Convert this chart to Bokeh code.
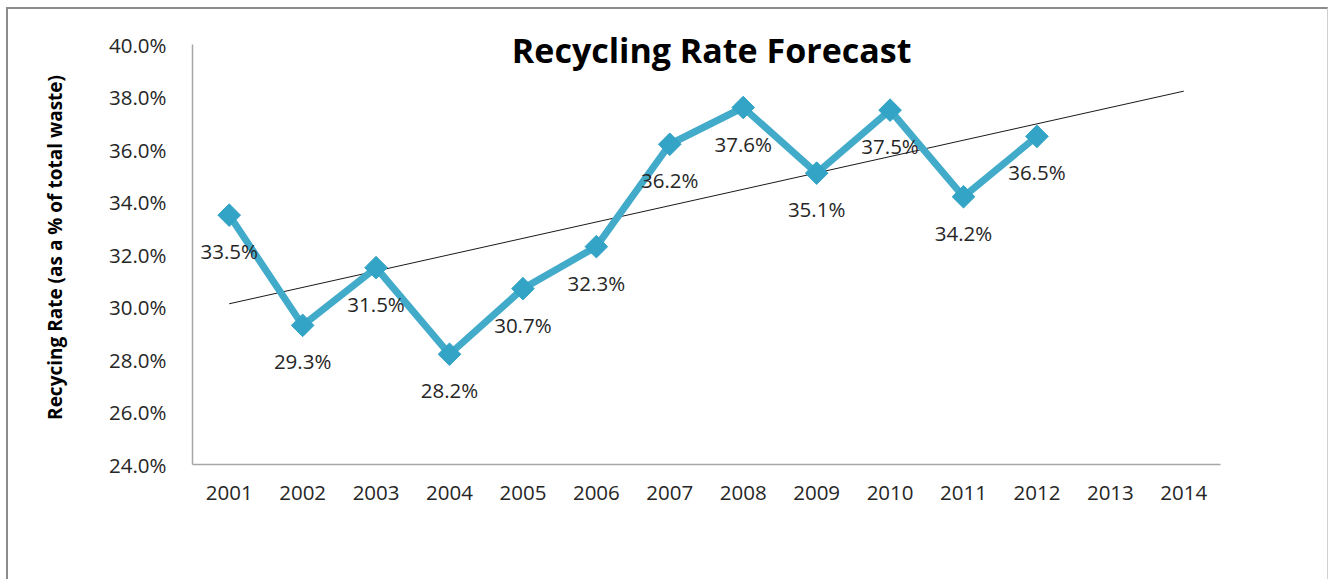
import numpy as np
from bokeh.plotting import figure
from bokeh.models import Range1d, FactorRange, NumeralTickFormatter, Label, FixedTicker
from bokeh.core.properties import value
from bokeh.embed import file_html
from bokeh.resources import INLINE

# ---- data ----
categories = [str(y) for y in range(2001, 2015)]
data_years = [str(y) for y in range(2001, 2013)]
recycling_rate = [0.335, 0.293, 0.315, 0.282, 0.307, 0.323, 0.362, 0.376, 0.351, 0.375, 0.342, 0.365]
y_ticks = [0.24, 0.26, 0.28, 0.30, 0.32, 0.34, 0.36, 0.38, 0.40]
title_text = "Recycling Rate Forecast"
y_label = "Recycing  Rate (as a % of total waste)"

# linear trend (fit on data points, extended over all categories)
idx = np.arange(1, len(recycling_rate) + 1)
slope, intercept = np.polyfit(idx, recycling_rate, 1)
trend_x = [categories[0], categories[-1]]
trend_y = [slope * 1 + intercept, slope * len(categories) + intercept]

FONT = "Open Sans"
TXT = "#262626"

p = figure(
    width=1322, height=572,
    x_range=FactorRange(*categories),
    y_range=Range1d(0.24, 0.40724),
    output_backend="svg", toolbar_location=None,
    min_border_left=184, min_border_right=110,
    min_border_top=16, min_border_bottom=117,
)
p.styles = {"margin": "7px 0 0 6px",
            "border-top": "2px solid #8c8c8c", "border-left": "2px solid #8c8c8c",
            "border-right": "1px solid #d0d0d0"}
p.outline_line_color = None
p.xgrid.grid_line_color = None
p.ygrid.grid_line_color = None
p.background_fill_color = "white"
p.border_fill_color = "white"

# axes
for ax in (p.xaxis[0], p.yaxis[0]):
    ax.axis_line_color = "#a6a6a6"
    ax.axis_line_width = 1.5
    ax.major_tick_line_color = None
    ax.minor_tick_line_color = None
    ax.major_label_text_font = FONT
    ax.major_label_text_font_size = "20.5px"
    ax.major_label_text_color = TXT

p.yaxis[0].bounds = (y_ticks[0], y_ticks[-1])
p.yaxis[0].ticker = FixedTicker(ticks=y_ticks)
p.yaxis[0].formatter = NumeralTickFormatter(format="0.0%")
p.yaxis[0].major_label_standoff = 20
p.yaxis[0].axis_label = y_label
p.yaxis[0].axis_label_text_font = FONT
p.yaxis[0].axis_label_text_font_size = "19px"
p.yaxis[0].axis_label_text_font_style = "bold"
p.yaxis[0].axis_label_text_color = "black"
p.yaxis[0].axis_label_standoff = 38
p.xaxis[0].major_label_standoff = 15

# trend line
p.line(trend_x, trend_y, line_color="#1a1a1a", line_width=1)

# series line + markers
p.line(data_years, recycling_rate, line_color="#42abca", line_width=7)
p.scatter(data_years, recycling_rate, marker="square", angle=np.pi / 4, size=16,
          fill_color="#33a3c6", line_color="#33a3c6")

# data labels
labels = [f"{v * 100:.1f}%" for v in recycling_rate]
p.text(data_years, recycling_rate, text=labels, text_align="center", text_baseline="middle",
       y_offset=36, text_font=value(FONT), text_font_size="20.5px", text_color=TXT)

# title inside the plot area
p.add_layout(Label(x=7.07, y=0.3980, text=title_text, text_align="center",
                   text_baseline="alphabetic", text_font=FONT, text_font_size="34px",
                   text_font_style="bold", text_color="black"))

open("out.html", "w").write(file_html(p, INLINE))
